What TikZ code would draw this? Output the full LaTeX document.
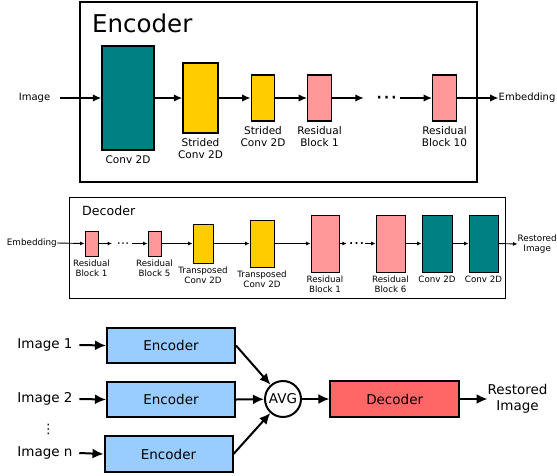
\documentclass[tikz,border=0pt]{standalone}
\usepackage{fontspec}
\setmainfont{DejaVu Sans}
\usetikzlibrary{arrows.meta,positioning}
\definecolor{convc}{HTML}{008080}
\definecolor{stridec}{HTML}{FFCC00}
\definecolor{resc}{HTML}{FF9999}
\definecolor{encc}{HTML}{99CCFF}
\definecolor{decc}{HTML}{FF6666}
\begin{document}
\begin{tikzpicture}[x=1pt, y=-1pt,
    blk/.style={draw, line width=1.4, inner sep=0},
    dblk/.style={draw, line width=0.9, inner sep=0},
    bblk/.style={draw, line width=2, inner sep=0, minimum width=128, minimum height=35, font=\fontsize{13.5}{16}\selectfont},
    lbl/.style={font=\fontsize{10.5}{12}\selectfont, align=center, inner sep=0},
    dlbl/.style={font=\fontsize{8.7}{10}\selectfont, align=center, inner sep=0},
    txt/.style={font=\fontsize{10}{12}\selectfont, inner sep=0},
    dtxt/.style={font=\fontsize{8.8}{10}\selectfont, inner sep=0, align=center},
    btxt/.style={font=\fontsize{13.5}{16}\selectfont, inner sep=0, align=center},
    dotsnode/.style={inner sep=0, font=\fontsize{#1}{#1}\selectfont},
    earr/.style={-{Latex[length=8.5,width=7.5]}, line width=1.5},
    darr/.style={-{Latex[length=4.5,width=4]}, line width=0.9},
    barr/.style={-{Latex[length=11,width=10]}, line width=2}]
\useasboundingbox (0,0) rectangle (557,475);

% encoder
\node[draw, line width=1.6, inner sep=0, minimum width=397, minimum height=180] (encbox) at (278.5,92) {};
\node[anchor=base west, inner sep=0, font=\fontsize{24.5}{28}\selectfont] (enctitle) at (92,32) {Encoder};
\node[txt] (eimg) at (34.5,98) {Image};
\node[blk, fill=convc, minimum width=52, minimum height=104, label={[lbl,label distance=5]below:Conv 2D}] (econv) at (128,98) {};
\node[blk, fill=stridec, minimum width=35, minimum height=70, label={[lbl,label distance=5]below:{Strided\\Conv 2D}}] (estr1) at (200.5,98) {};
\node[blk, fill=stridec, minimum width=23.5, minimum height=46, label={[lbl,label distance=5]below:{Strided\\Conv 2D}}] (estr2) at (263,98) {};
\node[blk, fill=resc, minimum width=23.5, minimum height=46, label={[lbl,label distance=5]below:{Residual\\Block 1}}] (eres1) at (319.5,98) {};
\node[dotsnode=22] (edots) at (386.5,100) {⋯};
\node[blk, fill=resc, minimum width=23.5, minimum height=46, label={[lbl,label distance=5]below:{Residual\\Block 10}}] (eres10) at (444.5,98) {};
\node[txt, anchor=west] (eemb) at (498.5,98) {Embedding};
\draw[earr] ([xshift=9.5]eimg.east) -- (econv.west);
\draw[earr] (econv.east) -- (estr1.west);
\draw[earr] (estr1.east) -- (estr2.west);
\draw[earr] (estr2.east) -- (eres1.west);
\draw[earr] (eres1.east) -- ([xshift=-11.5]edots.west |- eres1.east);
\draw[earr] ([xshift=2.5]edots.east |- eres10.west) -- (eres10.west);
\draw[earr] (eres10.east) -- (eemb.west);

% decoder
\node[draw, line width=1, inner sep=0, minimum width=436, minimum height=101] (decbox) at (287,247.5) {};
\node[anchor=base west, inner sep=0, font=\fontsize{12.6}{14}\selectfont] (dectitle) at (82,215.5) {Decoder};
\node[dtxt, anchor=east] (demb) at (57,243) {Embedding};
\node[dblk, fill=resc, minimum width=13, minimum height=25, label={[dlbl,label distance=3]below:{Residual\\Block 1}}] (dres1) at (91.5,243.5) {};
\node[dotsnode=12.5] (ddots1) at (123,245) {⋯};
\node[dblk, fill=resc, minimum width=13, minimum height=25, label={[dlbl,label distance=3]below:{Residual\\Block 5}}] (dres5) at (154.5,243.5) {};
\node[dblk, fill=stridec, minimum width=20, minimum height=39, label={[dlbl,label distance=3]below:{Transposed\\Conv 2D}}] (dtr1) at (203,243.5) {};
\node[dblk, fill=stridec, minimum width=24, minimum height=47, label={[dlbl,label distance=3]below:{Transposed\\Conv 2D}}] (dtr2) at (262,243.5) {};
\node[dblk, fill=resc, minimum width=28, minimum height=57, label={[dlbl,label distance=3]below:{Residual\\Block 1}}] (dres1b) at (325,243.5) {};
\node[dotsnode=16] (ddots2) at (356.5,245.5) {⋯};
\node[dblk, fill=resc, minimum width=29, minimum height=57, label={[dlbl,label distance=3]below:{Residual\\Block 6}}] (dres6) at (390.5,243.5) {};
\node[dblk, fill=convc, minimum width=30, minimum height=57, label={[dlbl,label distance=3]below:Conv 2D}] (dconv1) at (437,243.5) {};
\node[dblk, fill=convc, minimum width=29, minimum height=57, label={[dlbl,label distance=3]below:Conv 2D}] (dconv2) at (483.5,243.5) {};
\node[dtxt, anchor=west] (dout) at (517.5,244) {Restored\\Image};
\draw[darr] (demb.east) -- (dres1.west);
\draw[darr] (dres1.east) -- ([xshift=-4.5]ddots1.west |- dres1.east);
\draw[darr] ([xshift=2.5]ddots1.east |- dres5.west) -- (dres5.west);
\draw[darr] (dres5.east) -- (dtr1.west);
\draw[darr] (dtr1.east) -- (dtr2.west);
\draw[darr] (dtr2.east) -- (dres1b.west);
\draw[darr] (dres1b.east) -- ([xshift=-1.5]ddots2.west |- dres1b.east);
\draw[darr] ([xshift=0.5]ddots2.east |- dres6.west) -- (dres6.west);
\draw[darr] (dres6.east) -- (dconv1.west);
\draw[darr] (dconv1.east) -- (dconv2.west);
\draw[darr] (dconv2.east) -- (dout.west);

% ensemble
\node[btxt] (im1) at (45,345) {Image 1};
\node[btxt] (im2) at (45,399) {Image 2};
\node[dotsnode=13] (imdots) at (48.3,429.5) {⋮};
\node[btxt] (imn) at (45,453) {Image n};
\node[bblk, fill=encc] (enc1) at (171,345.5) {Encoder};
\node[bblk, fill=encc] (enc2) at (171,399.5) {Encoder};
\node[bblk, fill=encc, minimum height=36] (encn) at (168.5,454) {Encoder};
\node[draw, circle, line width=2, minimum size=36, inner sep=0, font=\fontsize{13.5}{16}\selectfont] (avg) at (283,399) {AVG};
\node[bblk, fill=decc, minimum width=128.6, minimum height=36] (dec) at (394.7,399) {Decoder};
\node[btxt, anchor=west] (rimg) at (487.5,399) {Restored\\Image};
\draw[barr] ([xshift=6.5]im1.east) -- (enc1.west);
\draw[barr] ([xshift=6.5]im2.east) -- (enc2.west);
\draw[barr] ([xshift=6.5]imn.east) -- (encn.west);
\draw[barr] (enc1.east) -- (avg);
\draw[barr] (enc2.east) -- (avg);
\draw[barr] (encn.east) -- (avg);
\draw[barr] (avg) -- (dec);
\draw[barr] (dec.east) -- (rimg.west);
\end{tikzpicture}
\end{document}
